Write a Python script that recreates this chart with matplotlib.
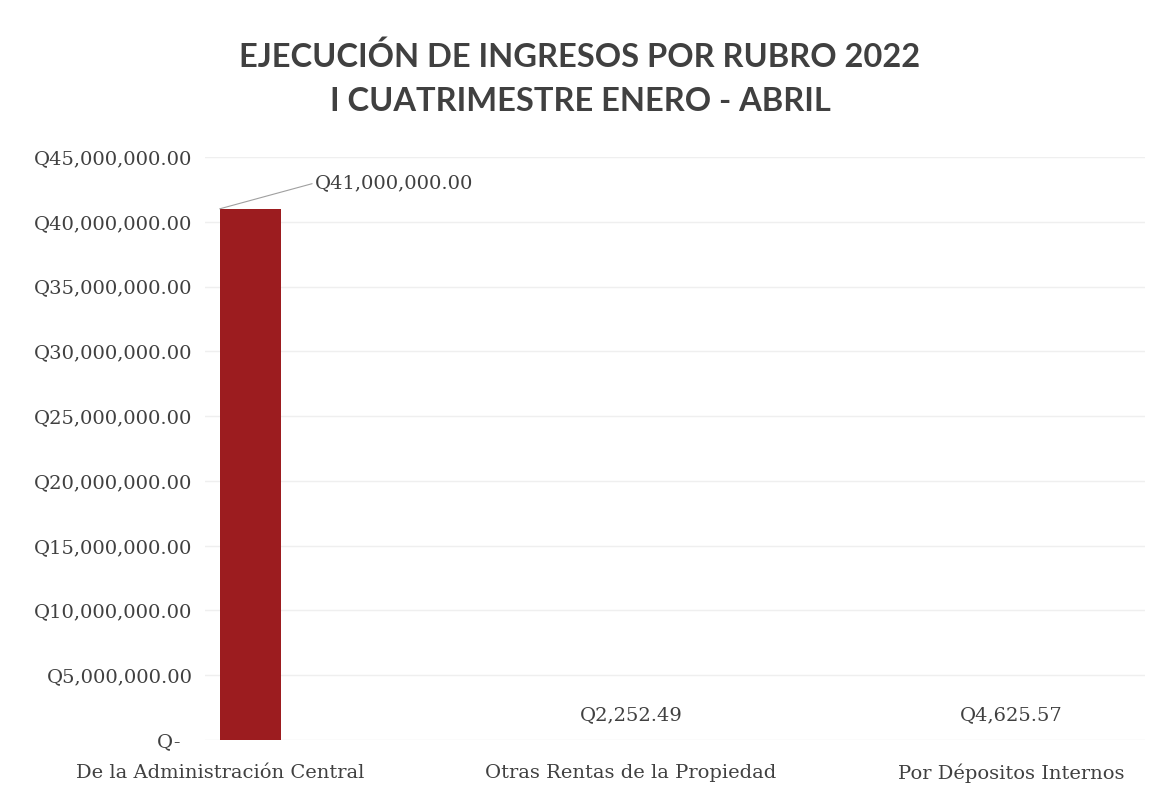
import matplotlib.pyplot as plt
from matplotlib.ticker import FuncFormatter, MultipleLocator
import matplotlib.transforms as mtransforms

categorias = ['De la Administración Central', 'Otras Rentas de la Propiedad', 'Por Dépositos Internos']
montos = [41000000.00, 2252.49, 4625.57]
etiquetas = ['Q41,000,000.00', 'Q2,252.49', 'Q4,625.57']

gris = '#404040'
rojo = '#9c1c1f'
serif = 'DejaVu Serif'
tam = 14

fig = plt.figure(figsize=(11.53, 7.95), dpi=100)
ax = fig.add_axes([0.178, 0.0692, 0.815, 0.7333])

x = list(range(len(categorias)))
ax.bar(x, montos, width=0.16, color=rojo, zorder=3)

ax.set_ylim(0, 45000000)
ax.set_xlim(-0.118, 2.35)
ax.yaxis.set_major_locator(MultipleLocator(5000000))


def fmt_q(v, pos):
    if v == 0:
        return 'Q-  '
    return 'Q{:,.2f}'.format(v)


ax.yaxis.set_major_formatter(FuncFormatter(fmt_q))
ax.set_xticks(x)
ax.set_xticklabels(categorias)

for s in ax.spines.values():
    s.set_visible(False)
ax.grid(axis='y', color='#efefef', linewidth=1, zorder=0)
ax.tick_params(axis='both', length=0, labelsize=tam, labelcolor=gris)
ax.tick_params(axis='y', pad=9)
ax.tick_params(axis='x', pad=17)
for lab in ax.get_xticklabels() + ax.get_yticklabels():
    lab.set_fontfamily(serif)

# primer rotulo corrido a la izquierda como en el original
primero = ax.get_xticklabels()[0]
primero.set_transform(primero.get_transform() +
                      mtransforms.ScaledTranslation(-0.30, 0, fig.dpi_scale_trans))

# etiquetas de datos
ax.annotate(etiquetas[0], xy=(x[0] - 0.08, montos[0]), xytext=(x[0] + 0.17, 43000000),
            fontsize=tam, color=gris, family=serif, va='center', ha='left',
            arrowprops=dict(arrowstyle='-', color='#a0a0a0', lw=0.8,
                            shrinkA=0, shrinkB=0, relpos=(0, 0.5)))
for i in (1, 2):
    ax.text(x[i], montos[i] + 1900000, etiquetas[i], ha='center', va='center',
            fontsize=tam, color=gris, family=serif)

fig.text(0.503, 0.928, 'EJECUCIÓN DE INGRESOS POR RUBRO 2022', ha='center', va='center',
         fontsize=23.5, fontweight='bold', color=gris, family='Lato')
fig.text(0.503, 0.872, 'I CUATRIMESTRE ENERO - ABRIL', ha='center', va='center',
         fontsize=23.5, fontweight='bold', color=gris, family='Lato')

fig.savefig('out.png', dpi=100)
